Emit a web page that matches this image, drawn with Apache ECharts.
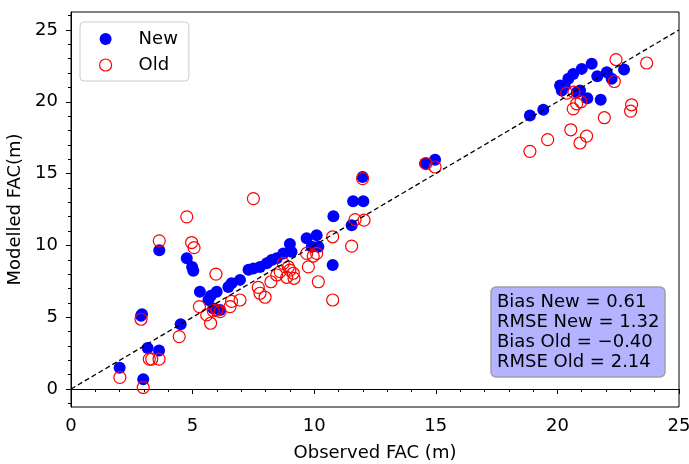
<!DOCTYPE html>
<html>
<head>
<meta charset="utf-8">
<script src="https://cdn.jsdelivr.net/npm/echarts@6/dist/echarts.min.js"></script>
<style>html,body{margin:0;padding:0;background:#fff;}#c{width:689px;height:464px;}</style>
</head>
<body>
<div id="c"></div>
<script>
// ---- data ----
var newObs = [2.0, 2.88, 2.92, 2.97, 3.15, 3.62, 3.63, 4.51, 4.76, 4.98, 5.03, 5.30, 5.65, 5.85, 5.75, 5.99, 6.13, 6.47, 6.6, 6.95, 7.3, 7.5, 7.77, 8.05, 8.25, 8.46, 8.73, 9.0, 9.07, 9.69, 9.9, 10.1, 10.17, 10.76, 10.79, 11.54, 11.6, 12.02, 11.99, 14.56, 14.97, 18.87, 19.42, 20.11, 20.18, 20.3, 20.45, 20.65, 21.0, 21.41, 20.93, 20.8, 21.23, 21.64, 22.03, 22.23, 22.74, 21.78];
var newMod = [1.48, 5.1, 5.2, 0.69, 2.85, 2.68, 9.67, 4.51, 9.1, 8.5, 8.24, 6.78, 6.2, 5.6, 6.5, 6.78, 5.5, 7.1, 7.36, 7.6, 8.3, 8.4, 8.5, 8.75, 8.98, 9.1, 9.44, 10.1, 9.55, 10.5, 9.9, 10.7, 9.9, 8.63, 12.03, 11.4, 13.08, 13.08, 14.76, 15.7, 15.97, 19.05, 19.44, 21.13, 20.78, 21.1, 21.6, 21.94, 22.29, 22.64, 20.78, 20.67, 20.25, 21.78, 22.06, 21.6, 22.24, 20.14];
var oldObs = [2.01, 2.97, 2.88, 3.22, 3.32, 3.62, 3.63, 4.45, 4.76, 4.96, 5.06, 5.96, 5.28, 5.58, 5.74, 5.85, 5.99, 6.13, 6.54, 6.6, 6.95, 7.5, 7.7, 7.77, 7.98, 8.22, 8.46, 8.6, 8.73, 8.94, 9.0, 9.14, 8.87, 9.17, 9.69, 9.96, 10.1, 9.76, 10.17, 10.76, 10.76, 11.68, 12.05, 11.54, 11.99, 14.6, 14.97, 18.87, 19.6, 20.55, 20.93, 21.2, 21.93, 20.38, 20.68, 20.79, 20.65, 20.97, 22.34, 22.41, 23.67, 23.05, 23.01];
var oldMod = [0.81, 0.11, 4.86, 2.08, 2.08, 2.08, 10.32, 3.65, 11.99, 10.2, 9.84, 8.0, 5.74, 5.16, 4.58, 5.45, 5.5, 5.39, 5.74, 6.1, 6.2, 13.26, 7.08, 6.67, 6.39, 7.47, 7.94, 8.17, 8.75, 8.5, 8.28, 8.06, 7.78, 7.71, 9.44, 9.26, 9.44, 8.51, 7.47, 6.2, 10.6, 11.8, 11.76, 9.95, 14.65, 15.7, 15.46, 16.55, 17.36, 18.05, 17.13, 17.61, 18.89, 20.6, 20.67, 19.86, 19.51, 20.0, 21.41, 22.94, 22.7, 19.79, 19.35];
var oneToOne = [0, 25];
var xTicks = [0, 5, 10, 15, 20, 25];
var yTicks = [0, 5, 10, 15, 20, 25];
var yMinorTicks = [-1, 1, 2, 3, 4, 6, 7, 8, 9, 11, 12, 13, 14, 16, 17, 18, 19, 21, 22, 23, 24, 26];
var statLines = ['Bias New = 0.61', 'RMSE New = 1.32', 'Bias Old = \u22120.40', 'RMSE Old = 2.14'];

function zip(a, b) { return a.map(function (v, i) { return [v, b[i]]; }); }

var FONT = 'DejaVu Sans';
var FS = 18;
var chart = echarts.init(document.getElementById('c'));
chart.setOption({
  animation: false,
  textStyle: { fontFamily: FONT },
  grid: { left: 71, right: 10, top: 12, bottom: 57, containLabel: false, outerBoundsMode: 'none',
          show: true, borderColor: '#000', borderWidth: 1, backgroundColor: 'transparent' },
  xAxis: {
    type: 'value', min: xTicks[0], max: xTicks[xTicks.length - 1], interval: 5,
    name: 'Observed FAC (m)', nameLocation: 'middle', nameGap: 37,
    nameTextStyle: { fontSize: FS, color: '#000', fontFamily: FONT },
    axisLine: { show: true, lineStyle: { color: '#000', width: 1 } },
    axisTick: { show: true, length: 5, lineStyle: { color: '#000', width: 1 } },
    minorTick: { show: true, splitNumber: 5, length: 3, lineStyle: { color: '#000', width: 1 } },
    axisLabel: { fontSize: FS, color: '#000', margin: 10, fontFamily: FONT },
    splitLine: { show: false }
  },
  yAxis: [{
    type: 'value', min: -1.25, max: 26.25,
    name: 'Modelled FAC(m)', nameLocation: 'middle', nameGap: 42,
    nameTextStyle: { fontSize: FS, color: '#000', fontFamily: FONT },
    axisLine: { show: true, lineStyle: { color: '#000', width: 1 } },
    axisTick: { show: true, length: 5, customValues: yTicks, lineStyle: { color: '#000', width: 1 } },
    axisLabel: { fontSize: FS, color: '#000', margin: 13, customValues: yTicks, fontFamily: FONT },
    splitLine: { show: false }
  }, {
    type: 'value', min: -1.25, max: 26.25, position: 'left',
    axisLine: { show: false },
    axisTick: { show: true, length: 3, customValues: yMinorTicks, lineStyle: { color: '#000', width: 1 } },
    axisLabel: { show: false, customValues: yMinorTicks },
    splitLine: { show: false }
  }],
  legend: {
    orient: 'vertical', left: 80, top: 22,
    padding: [8, 11, 7, 19], itemGap: 8, itemWidth: 12, itemHeight: 12,
    backgroundColor: 'rgba(255,255,255,0.8)', borderColor: '#cccccc', borderWidth: 1, borderRadius: 4,
    textStyle: { fontSize: 18, color: '#000', fontFamily: FONT, padding: [0, 0, 0, 22] },
    data: [
      { name: 'New', icon: 'circle', itemStyle: { color: '#0000ff', borderWidth: 0 } },
      { name: 'Old', icon: 'circle', itemStyle: { color: 'rgba(0,0,0,0)', borderColor: '#ff0000', borderWidth: 1.2 } }
    ]
  },
  title: {
    text: statLines.join('\n'), left: 491, top: 287,
    backgroundColor: '#b3b3ff', borderColor: '#a0a0a0', borderWidth: 1.5, borderRadius: 5,
    padding: [5, 6, 5, 6],
    textStyle: { fontSize: FS, lineHeight: 20, fontWeight: 'normal', color: '#000', fontFamily: FONT }
  },
  series: [
    { name: 'New', type: 'scatter', symbol: 'circle', symbolSize: 12, data: zip(newObs, newMod),
      itemStyle: { color: '#0000ff', opacity: 1 } },
    { name: 'Old', type: 'scatter', symbol: 'circle', symbolSize: 12, data: zip(oldObs, oldMod),
      itemStyle: { color: 'rgba(0,0,0,0)', borderColor: '#ff0000', borderWidth: 1.2, opacity: 1 } },
    { name: '1:1', type: 'line', symbol: 'none', silent: true, data: zip(oneToOne, oneToOne),
      lineStyle: { color: '#000', width: 1.3, type: [5, 3] } }
  ]
});
</script>
</body>
</html>
